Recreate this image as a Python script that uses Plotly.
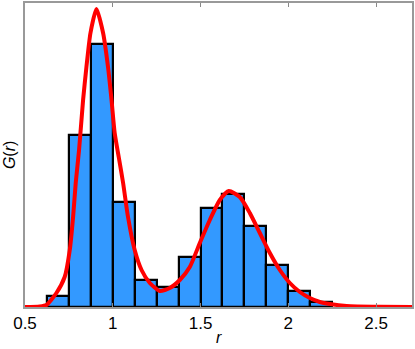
import plotly.graph_objects as go

# histogram bins (left edges), bin width 0.125
bin_left = [0.625, 0.75, 0.875, 1.0, 1.125, 1.25, 1.375, 1.5, 1.625, 1.75, 1.875, 2.0, 2.125]
bin_width = 0.125
bin_height = [0.106, 1.72, 2.635, 1.05, 0.27, 0.20, 0.50, 0.99, 1.13, 0.81, 0.42, 0.16, 0.05]

# fitted G(r) curve
curve_r = [0.5, 0.584, 0.622, 0.679, 0.726, 0.755, 0.774, 0.789, 0.808, 0.831, 0.850, 0.873,
           0.907, 0.945, 0.973, 0.993, 1.011, 1.035, 1.059, 1.087, 1.125, 1.164, 1.211,
           1.268, 1.325, 1.382, 1.439, 1.496, 1.553, 1.610, 1.661, 1.724, 1.781, 1.838,
           1.895, 1.952, 2.009, 2.066, 2.123, 2.180, 2.237, 2.332, 2.52, 2.705]
curve_g = [0.0, 0.005, 0.02, 0.14, 0.30, 0.57, 0.90, 1.24, 1.57, 2.07, 2.40, 2.74,
           2.98, 2.74, 2.40, 2.07, 1.74, 1.49, 1.24, 0.90, 0.57, 0.37, 0.24,
           0.16, 0.19, 0.27, 0.40, 0.64, 0.87, 1.07, 1.16, 1.10, 0.94, 0.74,
           0.54, 0.37, 0.24, 0.15, 0.09, 0.05, 0.03, 0.01, 0.002, 0.0]

x_ticks = [0.5, 1, 1.5, 2, 2.5]
x_ticktext = ["0.5", "1", "1.5", "2", "2.5"]

bin_centre = [b + bin_width / 2 for b in bin_left]

fig = go.Figure()

fig.add_trace(go.Bar(x=bin_centre, y=bin_height, width=bin_width,
                     marker=dict(color="#3399ff", line=dict(color="black", width=2.2)),
                     showlegend=False, hoverinfo="skip"))

fig.add_trace(go.Scatter(x=curve_r, y=curve_g, mode="lines",
                         line=dict(color="#ff0000", width=4, shape="spline", smoothing=0.6),
                         showlegend=False, hoverinfo="skip"))

fig.update_layout(
    width=415, height=349,
    margin=dict(l=25, r=3, t=3, b=42),
    paper_bgcolor="white", plot_bgcolor="white",
    font=dict(family="Liberation Sans, Arial, sans-serif", size=17, color="black"),
    bargap=0,
    xaxis=dict(range=[0.5, 2.705], tickvals=x_ticks, ticktext=x_ticktext,
               ticks="inside", ticklen=4, tickcolor="#888888", ticklabelstandoff=0,
               showline=True, linecolor="#999999", linewidth=1.5, mirror="ticks",
               showgrid=False, zeroline=False, automargin=False),
    yaxis=dict(range=[0, 3.04], showticklabels=False, ticks="",
               showline=True, linecolor="#999999", linewidth=1.5, mirror=True,
               showgrid=False, zeroline=False, automargin=False),
    annotations=[
        dict(text="<i>r</i>", x=0.5, y=-0.099, xref="paper", yref="paper",
             xanchor="center", yanchor="middle", showarrow=False, font=dict(size=16)),
        dict(text="<i>G</i>(<i>r</i>)", x=-0.014, y=0.5, xref="paper", yref="paper",
             xanchor="right", yanchor="middle", textangle=-90, showarrow=False,
             font=dict(size=16)),
    ],
)

# the page body has a default 8px margin; remove it so the figure fills the window
fig.write_html("out.html", config=dict(displayModeBar=False),
               post_script="document.body.style.margin='0px';")
